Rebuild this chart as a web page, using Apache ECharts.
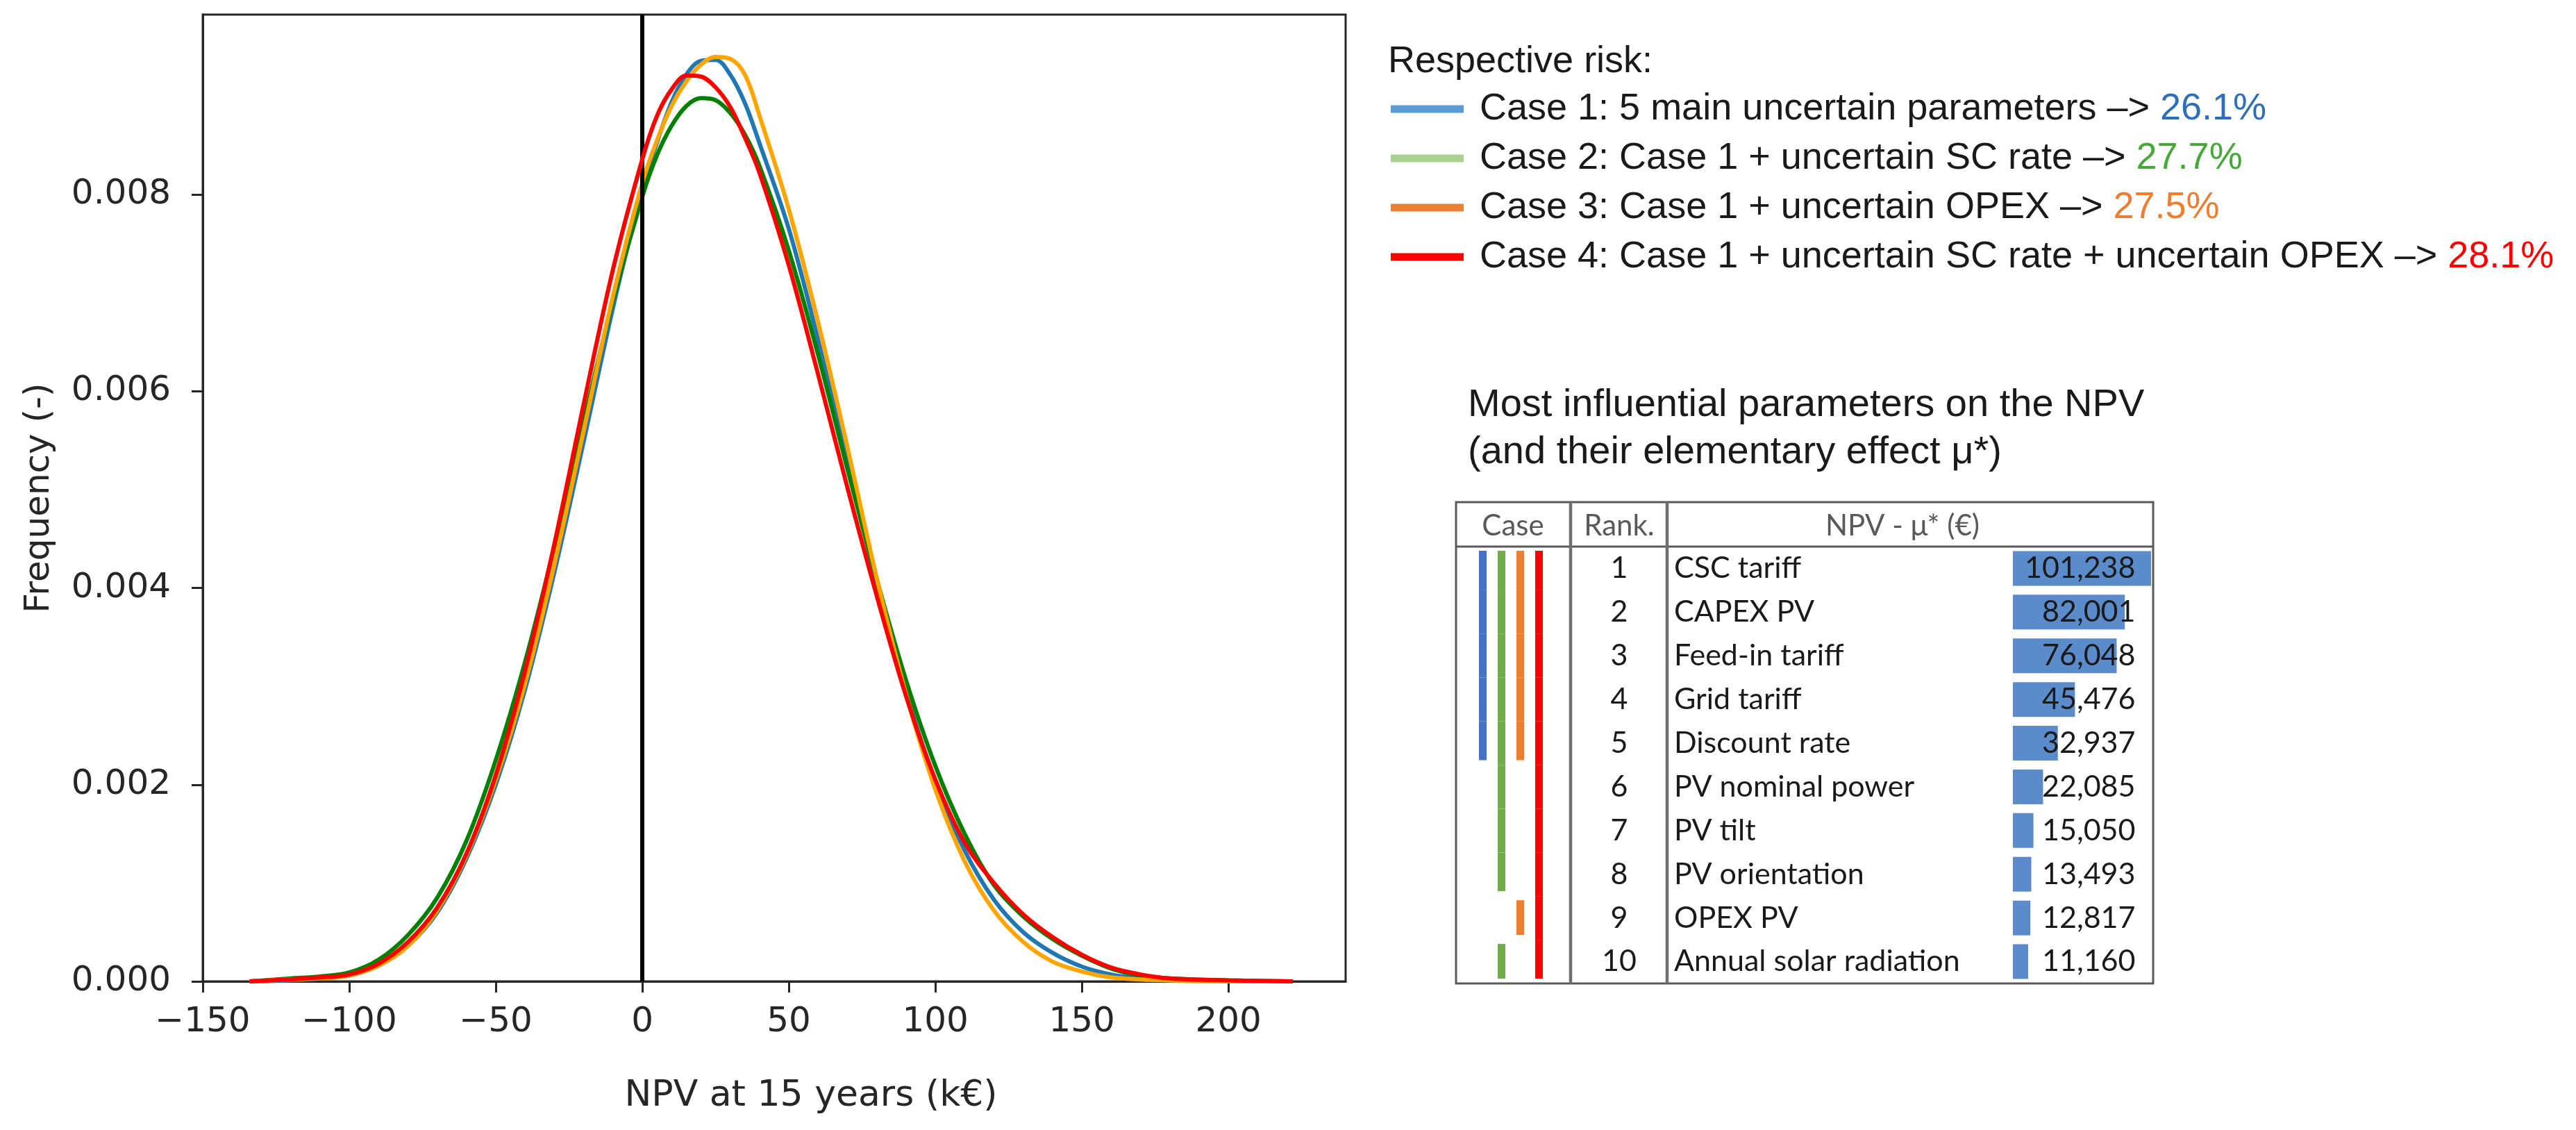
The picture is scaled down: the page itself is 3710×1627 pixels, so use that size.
<!DOCTYPE html>
<html>
<head>
<meta charset="utf-8">
<title>NPV at 15 years - risk cases</title>
<script src="https://cdn.jsdelivr.net/npm/echarts@6/dist/echarts.min.js"></script>
<style>
html,body{margin:0;padding:0;background:#fff;}
#chart{width:3710px;height:1627px;}
</style>
</head>
<body>
<div id="chart"></div>
<script>
// density curves (x in k€)
var npvX = [-134,-120,-110,-100,-90,-80,-70,-60,-50,-40,-30,-20,-10,0,5,10,15,20,25,30,35,40,50,60,70,80,90,100,110,120,130,140,150,160,170,180,200,222];
var case1Freq = [0,0.00001,0.00003,0.00006,0.00016,0.00036,0.00070,0.00125,0.00200,0.00297,0.00416,0.00549,0.00685,0.00806,0.00853,0.00894,0.00922,0.00936,0.00937,0.00922,0.00893,0.00852,0.00765,0.00652,0.00527,0.00405,0.00294,0.00203,0.00133,0.00083,0.00050,0.00029,0.00015,0.00007,0.00003,0.00001,0,0];
var case2Freq = [0,0.00003,0.00005,0.00009,0.00022,0.00047,0.00085,0.00143,0.00225,0.00325,0.00442,0.00569,0.00692,0.00798,0.00840,0.00870,0.00890,0.00898,0.00896,0.00883,0.00861,0.00829,0.00743,0.00637,0.00521,0.00409,0.00306,0.00219,0.00150,0.00098,0.00066,0.00043,0.00026,0.00013,0.00006,0.00003,0.00001,0];
var case3Freq = [0,0.00002,0.00003,0.00006,0.00016,0.00036,0.00072,0.00128,0.00205,0.00303,0.00424,0.00560,0.00697,0.00812,0.00855,0.00890,0.00915,0.00932,0.00940,0.00938,0.00922,0.00880,0.00785,0.00670,0.00543,0.00410,0.00292,0.00195,0.00122,0.00072,0.00040,0.00020,0.00010,0.00004,0.00002,0.00001,0,0];
var case4Freq = [0,0.00002,0.00004,0.00007,0.00018,0.00040,0.00075,0.00130,0.00210,0.00316,0.00445,0.00587,0.00724,0.00836,0.00880,0.00907,0.00921,0.00920,0.00909,0.00889,0.00858,0.00822,0.00728,0.00617,0.00502,0.00392,0.00290,0.00205,0.00141,0.00100,0.00068,0.00045,0.00027,0.00014,0.00007,0.00003,0.00001,0];

var xTicks = [-150,-100,-50,0,50,100,150,200];
var yTicks = [0,0.002,0.004,0.006,0.008];

// legend text
var caseLabels = [
  'Case 1: 5 main uncertain parameters \u2013> ',
  'Case 2: Case 1 + uncertain SC rate \u2013> ',
  'Case 3: Case 1 + uncertain OPEX \u2013> ',
  'Case 4: Case 1 + uncertain SC rate + uncertain OPEX \u2013> '
];
var caseRisk = [26.1, 27.7, 27.5, 28.1];

// Morris table
var ranks = ['1','2','3','4','5','6','7','8','9','10'];
var paramNames = ['CSC tariff','CAPEX PV','Feed-in tariff','Grid tariff','Discount rate','PV nominal power','PV tilt','PV orientation','OPEX PV','Annual solar radiation'];
var muValues = [101238,82001,76048,45476,32937,22085,15050,13493,12817,11160];
var caseRanks = [[1,2,3,4,5],[1,2,3,4,5,6,7,8,10],[1,2,3,4,5,9],[1,2,3,4,5,6,7,8,9,10]];

var curveColors = ['#1f77b4','#008000','#ffa500','#ff0000'];
var legendColors = ['#5b9bd5','#a9d18e','#ed7d31','#ff0000'];
var riskColors = ['#2e6fb7','#45a838','#ed7d31','#ff0000'];
var caseBarColors = ['#4472c4','#70ad47','#ed7d31','#ff0000'];

var axisFont = 'DejaVu Sans';
var textFont = 'Liberation Sans';
var tableFont = 'Lato';
var muMax = 102000;

function pairs(ys){
  return npvX.map(function(x,i){ return [x, ys[i]]; });
}

var curveSeries = [case1Freq, case2Freq, case3Freq, case4Freq].map(function(ys,i){
  var s = {
    type:'line', xAxisIndex:0, yAxisIndex:0,
    data:pairs(ys), smooth:0.35, showSymbol:false, symbol:'none',
    lineStyle:{color:curveColors[i], width:6}, z:2+i
  };
  if(i===3){
    s.markLine = {
      silent:true, symbol:['none','none'], label:{show:false},
      lineStyle:{color:'#000', width:6, type:'solid'},
      data:[{xAxis:0}]
    };
  }
  return s;
});

// case membership marks in the table
var caseCells = [];
caseRanks.forEach(function(rows,c){
  rows.forEach(function(r){ caseCells.push([c, r-1]); });
});

function renderCase(params, api){
  var c = api.value(0), r = api.value(1);
  var p = api.coord([c, r]);
  var h = api.size([0,1])[1];
  var rows = caseRanks[c];
  var top = p[1]-h/2, bottom = p[1]+h/2;
  if(rows.indexOf(r) < 0) top += 6;        // no mark on the row above
  if(rows.indexOf(r+2) < 0) bottom -= 7;   // no mark on the row below
  return {type:'rect', shape:{x:p[0]-5.5, y:top, width:11, height:bottom-top}, style:{fill:caseBarColors[c]}};
}

// legend + titles + table frame
var graphics = [];
graphics.push({type:'text', x:1999, y:89, style:{text:'Respective risk:', fontFamily:textFont, fontSize:54, fill:'#1a1a1a', verticalAlign:'middle'}});
var legendY = [157,228,299,370];
caseLabels.forEach(function(lab,i){
  graphics.push({type:'line', shape:{x1:2003, y1:legendY[i], x2:2108, y2:legendY[i]}, style:{stroke:legendColors[i], lineWidth:11}});
  graphics.push({type:'text', x:2131, y:legendY[i], style:{
    text:'{t|'+lab+'}{p|'+caseRisk[i].toFixed(1)+'%}',
    verticalAlign:'middle',
    rich:{
      t:{fontFamily:textFont, fontSize:54, fill:'#1a1a1a'},
      p:{fontFamily:textFont, fontSize:54, fill:riskColors[i]}
    }
  }});
});
graphics.push({type:'text', x:2114, y:584, style:{text:'Most influential parameters on the NPV', fontFamily:textFont, fontSize:56, fill:'#1a1a1a', verticalAlign:'middle'}});
graphics.push({type:'text', x:2114, y:652, style:{text:'(and their elementary effect \u03bc*)', fontFamily:textFont, fontSize:56, fill:'#1a1a1a', verticalAlign:'middle'}});

graphics.push({type:'rect', shape:{x:2097, y:723, width:1004, height:693}, style:{fill:'none', stroke:'#595959', lineWidth:3}, z:10});
graphics.push({type:'line', shape:{x1:2097, y1:787, x2:3101, y2:787}, style:{stroke:'#595959', lineWidth:3}, z:10});
[2262, 2401].forEach(function(x){
  graphics.push({type:'line', shape:{x1:x, y1:723, x2:x, y2:1416}, style:{stroke:'#6f6f6f', lineWidth:4.5}, z:10});
});
[['Case',2179],['Rank.',2332],['NPV - \u03bc* (\u20ac)',2740]].forEach(function(h){
  graphics.push({type:'text', x:h[1], y:757, style:{text:h[0], fontFamily:tableFont, fontSize:42, fill:'#595959', align:'center', verticalAlign:'middle'}});
});

var chart = echarts.init(document.getElementById('chart'));
var option = {
  animation:false,
  backgroundColor:'#fff',
  grid:[
    {left:292, top:21, width:1646, height:1392, show:true, borderColor:'#262626', borderWidth:3, backgroundColor:'transparent'},
    {left:2899, top:787, width:200.5, height:629},
    {left:2122, top:787, width:108, height:629}
  ],
  xAxis:[
    {
      type:'value', gridIndex:0, min:-150, max:240,
      axisLine:{show:true, onZero:false, lineStyle:{color:'#262626', width:3}},
      axisTick:{show:true, customValues:xTicks, length:16, lineStyle:{color:'#262626', width:3}},
      axisLabel:{customValues:xTicks, margin:34, fontFamily:axisFont, fontSize:50, color:'#262626',
        formatter:function(v){ return v<0 ? '\u2212'+Math.abs(v) : String(v); }},
      splitLine:{show:false},
      name:'NPV at 15 years (k\u20ac)', nameLocation:'middle', nameGap:139,
      nameTextStyle:{fontFamily:axisFont, fontSize:52, color:'#262626', padding:[0,0,0,106]}
    },
    {type:'value', gridIndex:1, min:0, max:muMax, show:false},
    {type:'value', gridIndex:2, min:-0.5, max:3.5, show:false}
  ],
  yAxis:[
    {
      type:'value', gridIndex:0, min:0, max:0.00983,
      axisLine:{show:true, onZero:false, lineStyle:{color:'#262626', width:3}},
      axisTick:{show:true, customValues:yTicks, length:16, lineStyle:{color:'#262626', width:3}},
      axisLabel:{customValues:yTicks, margin:46, fontFamily:axisFont, fontSize:50, color:'#262626',
        formatter:function(v){ return v.toFixed(3); }},
      splitLine:{show:false},
      name:'Frequency (-)', nameLocation:'middle', nameRotate:90, nameGap:210,
      nameTextStyle:{fontFamily:axisFont, fontSize:50, color:'#262626'}
    },
    {
      type:'category', gridIndex:1, data:paramNames, inverse:true,
      axisLine:{show:false}, axisTick:{show:false},
      axisLabel:{interval:0, align:'left', margin:488, fontFamily:tableFont, fontSize:43, color:'#1a1a1a'}
    },
    {
      type:'category', gridIndex:1, data:ranks, inverse:true, position:'left',
      axisLine:{show:false}, axisTick:{show:false},
      axisLabel:{interval:0, align:'center', margin:567, fontFamily:tableFont, fontSize:43, color:'#1a1a1a'}
    },
    {type:'category', gridIndex:2, data:ranks, inverse:true, show:false}
  ],
  series:curveSeries.concat([
    {
      type:'bar', xAxisIndex:1, yAxisIndex:1, data:muValues, barWidth:50,
      itemStyle:{color:'#5b8bcb'}, silent:true
    },
    {
      // transparent full-width bars just to carry the right-aligned values
      type:'bar', xAxisIndex:1, yAxisIndex:1, barWidth:50, barGap:'-100%',
      data:muValues.map(function(){ return muMax; }),
      itemStyle:{color:'rgba(0,0,0,0)'}, silent:true, z:5,
      label:{show:true, position:'insideRight', distance:24, fontFamily:tableFont, fontSize:43, color:'#1a1a1a',
        formatter:function(p){ return muValues[p.dataIndex].toLocaleString('en-US'); }}
    },
    {
      type:'custom', xAxisIndex:2, yAxisIndex:3, data:caseCells,
      renderItem:renderCase, clip:false, silent:true
    }
  ]),
  graphic:graphics
};
chart.setOption(option);
</script>
</body>
</html>
